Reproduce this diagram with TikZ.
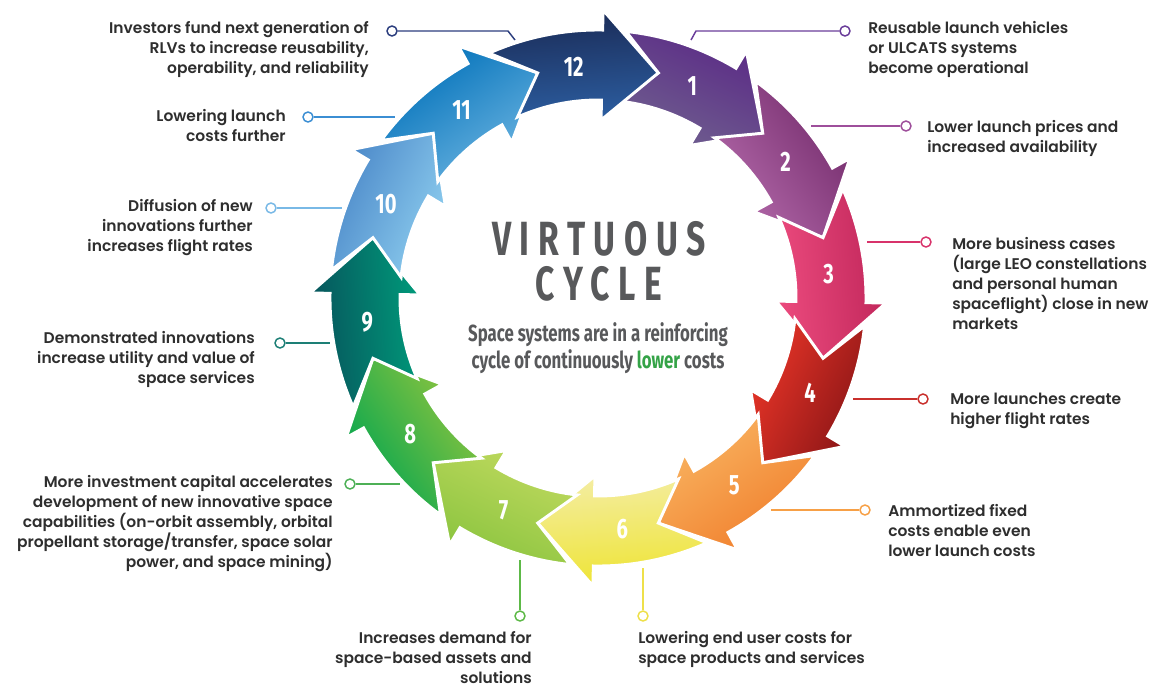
\documentclass[tikz,border=0pt]{standalone}
\usepackage{fontspec}
\usepackage{tikz}
\setmainfont{Poppins}
\newfontfamily\lblfont{Poppins SemiBold}
\newfontfamily\condfont{Fira Sans}[FakeStretch=0.72]
\newfontfamily\titlefont{Fira Sans}[FakeStretch=0.7, LetterSpace=18]

% arrow colours, tail end and head end
\definecolor{tail1}{HTML}{5B2A86}  \definecolor{head1}{HTML}{6F5F8F}
\definecolor{tail2}{HTML}{742C6C}  \definecolor{head2}{HTML}{B46AAB}
\definecolor{tail3}{HTML}{C0265A}  \definecolor{head3}{HTML}{EC4B7E}
\definecolor{tail4}{HTML}{8A1516}  \definecolor{head4}{HTML}{E93528}
\definecolor{tail5}{HTML}{F07E2C}  \definecolor{head5}{HTML}{F9B562}
\definecolor{tail6}{HTML}{EEE431}  \definecolor{head6}{HTML}{F4EDA2}
\definecolor{tail7}{HTML}{8AC43F}  \definecolor{head7}{HTML}{BFD95E}
\definecolor{tail8}{HTML}{00A550}  \definecolor{head8}{HTML}{93C53E}
\definecolor{tail9}{HTML}{07525B}  \definecolor{head9}{HTML}{009A7A}
\definecolor{tail10}{HTML}{4A87C8} \definecolor{head10}{HTML}{8ECEEF}
\definecolor{tail11}{HTML}{0070B9} \definecolor{head11}{HTML}{6AB3E0}
\definecolor{tail12}{HTML}{1A2A55} \definecolor{head12}{HTML}{2C5EA1}

% leader lines
\definecolor{lead1}{HTML}{6A3D9A}  \definecolor{lead2}{HTML}{9E4F9B}
\definecolor{lead3}{HTML}{D8336B}  \definecolor{lead4}{HTML}{C9302C}
\definecolor{lead5}{HTML}{F7A046}  \definecolor{lead6}{HTML}{EEE04A}
\definecolor{lead7}{HTML}{5DB947}  \definecolor{lead8}{HTML}{4DB056}
\definecolor{lead9}{HTML}{1D7F76}  \definecolor{lead10}{HTML}{79B9E6}
\definecolor{lead11}{HTML}{3B8ED3} \definecolor{lead12}{HTML}{2C3E7E}

\definecolor{labelgray}{HTML}{2E2E2E}
\definecolor{titlegray}{HTML}{58595B}
\definecolor{lowgreen}{HTML}{34A347}

\tikzset{
  ring arrow/.style={draw=white, line width=2.2pt, line join=miter},
  num/.style={font=\condfont\bfseries\fontsize{21}{21}\selectfont, text=white, inner sep=0pt},
  dot/.style={circle, draw=#1, fill=white, line width=1.1pt, minimum size=7.5pt, inner sep=0pt},
  lead/.style={draw=#1, line width=1.1pt},
  lbl/.style={font=\lblfont\fontsize{11.6}{15}\selectfont, text=labelgray, inner sep=0pt},
  title/.style={font=\titlefont\bfseries\fontsize{36}{36}\selectfont, text=titlegray, inner sep=0pt},
}

\begin{document}
\begin{tikzpicture}[x=0.75pt, y=0.75pt]
\useasboundingbox (-598,-392) rectangle (557,298);

% twelve arrows round the ring, clockwise from the top
\foreach \k in {1,...,12}
{
    \pgfmathsetmacro\tipang{75-30*\k}
    \pgfmathsetmacro\baseang{\tipang+14}
    \pgfmathsetmacro\tailang{\tipang+39}
    \pgfmathsetmacro\notchang{\tipang+30}
    \pgfmathsetmacro\shang{\tipang-70.5}
    \pgfmathsetmacro\numang{96-30*\k}
    \shadedraw[ring arrow, left color=tail\k, right color=head\k, shading angle=\shang]
        (\tailang:268) arc[start angle=\tailang, end angle=\baseang, radius=268]
        -- (\baseang:288) -- (\tipang:233) -- (\baseang:178) -- (\baseang:198)
        arc[start angle=\baseang, end angle=\tailang, radius=198]
        -- (\notchang:233) -- cycle;
    \node[num] (n\k) at (\numang:232) {\k};
}

% centre text
\node[title] (vt) at (1,59) {VIRTUOUS};
\node[title] (cy) at (1,14) {CYCLE};
\node[font=\condfont\bfseries\fontsize{17.5}{20.5}\selectfont, text=titlegray, align=center, inner sep=0pt] (sub) at (0,-50)
    {Space systems are in a reinforcing\\cycle of continuously {\color{lowgreen}lower} costs};

% end points on the ring
\coordinate (e1) at (93,258);
\coordinate (e2) at (213,172);
\coordinate (e3) at (269,56);
\coordinate (e4) at (255,-101);
\coordinate (e5) at (173,-212);
\coordinate (e6) at (45,-270);
\coordinate (e7) at (-78,-262);
\coordinate (e8) at (-198,-186);
\coordinate (e9) at (-268,-45);
\coordinate (e10) at (-256,90);
\coordinate (e11) at (-203,181);
\coordinate (e12) at (-83,258);

% small rings at the end of each leader
\node[dot=lead1] (c1) at (247,267) {};
\node[dot=lead2] (c2) at (308,172) {};
\node[dot=lead3] (c3) at (328,56) {};
\node[dot=lead4] (c4) at (325,-101) {};
\node[dot=lead5] (c5) at (267,-212) {};
\node[dot=lead6] (c6) at (45,-318) {};
\node[dot=lead7] (c7) at (-78,-318) {};
\node[dot=lead8] (c8) at (-248,-186) {};
\node[dot=lead9] (c9) at (-318,-45) {};
\node[dot=lead10] (c10) at (-327,90) {};
\node[dot=lead11] (c11) at (-290,181) {};
\node[dot=lead12] (c12) at (-206,267) {};

\draw[lead=lead1] (e1) -- ++(5,9) -- (c1);
\draw[lead=lead2] (e2) -- (c2);
\draw[lead=lead3] (e3) -- (c3);
\draw[lead=lead4] (e4) -- (c4);
\draw[lead=lead5] (e5) -- (c5);
\draw[lead=lead6] (e6) -- (c6);
\draw[lead=lead7] (e7) -- (c7);
\draw[lead=lead8] (e8) -- (c8);
\draw[lead=lead9] (e9) -- (c9);
\draw[lead=lead10] (e10) -- (c10);
\draw[lead=lead11] (e11) -- (c11);
\draw[lead=lead12] (e12) -- ++(-7,9) -- (c12);

% labels
\node[lbl, anchor=north west, align=left] (t1) at (270,277)
    {Reusable launch vehicles\\or ULCATS systems\\become operational};
\node[lbl, anchor=north west, align=left] (t2) at (329,178)
    {Lower launch prices and\\increased availability};
\node[lbl, anchor=north west, align=left] (t3) at (354,61)
    {More business cases\\(large LEO constellations\\and personal human\\spaceflight) close in new\\markets};
\node[lbl, anchor=north west, align=left] (t4) at (352,-95)
    {More launches create\\higher flight rates};
\node[lbl, anchor=north west, align=left] (t5) at (290,-206)
    {Ammortized fixed\\costs enable even\\lower launch costs};
\node[lbl, anchor=north west, align=left] (t6) at (40,-333)
    {Lowering end user costs for\\space products and services};
\node[lbl, anchor=north east, align=right] (t7) at (-66,-333)
    {Increases demand for\\space-based assets and\\solutions};
\node[lbl, anchor=north east, align=right] (t8) at (-265,-177)
    {More investment capital accelerates\\development of new innovative space\\capabilities (on-orbit assembly, orbital\\propellant storage/transfer, space solar\\power, and space mining)};
\node[lbl, anchor=north east, align=right] (t9) at (-343,-33)
    {Demonstrated innovations\\increase utility and value of\\space services};
\node[lbl, anchor=north east, align=right] (t10) at (-345,99)
    {Diffusion of new\\innovations further\\increases flight rates};
\node[lbl, anchor=north east, align=right] (t11) at (-312,189)
    {Lowering launch\\costs further};
\node[lbl, anchor=north east, align=right] (t12) at (-229,277)
    {Investors fund next generation of\\RLVs to increase reusability,\\operability, and reliability};
\end{tikzpicture}
\end{document}
